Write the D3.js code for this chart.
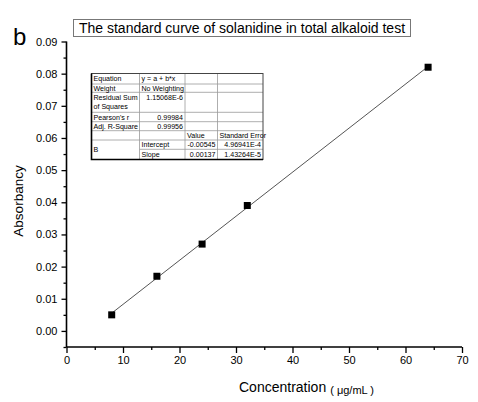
<!DOCTYPE html>
<html>
<head>
<meta charset="utf-8">
<script src="https://cdn.jsdelivr.net/npm/d3@7"></script>
<style>
  body { margin: 0; background: #fff; }
  svg { display: block; font-family: Arial, "Liberation Sans", sans-serif; }
</style>
</head>
<body>
<svg id="chart" width="478" height="402"></svg>
<script>
// data
const concentration = [8, 16, 24, 32, 64];
const absorbancy = [0.005, 0.017, 0.027, 0.039, 0.082];
const fitIntercept = -0.00545;
const fitSlope = 0.00137;
const fitRange = [8, 64];
const xTicks = [0, 10, 20, 30, 40, 50, 60, 70];
const yTicks = [0, 0.01, 0.02, 0.03, 0.04, 0.05, 0.06, 0.07, 0.08, 0.09];

const tableRows = [
    ['Equation', 'y = a + b*x', '', ''],
    ['Weight', 'No Weighting', '', ''],
    ['Residual Sum|of Squares', '1.15068E-6', '', ''],
    ["Pearson's r", '0.99984', '', ''],
    ['Adj. R-Square', '0.99956', '', ''],
    ['', '', 'Value', 'Standard Error'],
    ['B', 'Intercept', '-0.00545', '4.96941E-4'],
    ['', 'Slope', '0.00137', '1.43264E-5']
];

const svg = d3.select('#chart');
const margin = { left: 66.5, right: 16, top: 41.5, bottom: 55 };
const W = 478, H = 402;

const x = d3.scaleLinear().domain([0, 70]).range([margin.left, W - margin.right]);
const y = d3.scaleLinear().domain([-0.005, 0.09]).range([H - margin.bottom, margin.top]);

// axes
const xAxis = d3.axisBottom(x).tickValues(xTicks).tickFormat(d3.format('d')).tickSize(6).tickPadding(3);
const xMinor = d3.axisBottom(x).tickValues(d3.range(5, 70, 10)).tickFormat('').tickSize(3);
const yAxis = d3.axisLeft(y).tickValues(yTicks).tickFormat(d3.format('.2f')).tickSize(5).tickPadding(4);
const yMinor = d3.axisLeft(y).tickValues(d3.range(0.005, 0.09, 0.01).concat([-0.005])).tickFormat('').tickSize(3);

function styleAxis(g) {
    g.select('.domain').attr('stroke', '#000').attr('stroke-width', 1.6);
    g.selectAll('.tick line').attr('stroke', '#000').attr('stroke-width', 1.3);
    g.selectAll('.tick text').attr('fill', '#000').style('font-size', '11px');
}

svg.append('g').attr('transform', `translate(0,${y(-0.005)})`).call(xMinor).call(styleAxis)
    .select('.domain').remove();
svg.append('g').attr('transform', `translate(${x(0)},0)`).call(yMinor).call(styleAxis)
    .select('.domain').remove();

svg.append('g').attr('transform', `translate(0,${y(-0.005)})`).call(xAxis).call(styleAxis)
    .select('.domain').attr('d', `M${x(0)},0H${x(70)}`);
svg.append('g').attr('transform', `translate(${x(0)},0)`).call(yAxis).call(styleAxis)
    .select('.domain').attr('d', `M0,${y(0.09)}V${y(-0.005)}`);

// fit line
svg.append('line')
    .attr('x1', x(fitRange[0])).attr('y1', y(fitIntercept + fitSlope * fitRange[0]))
    .attr('x2', x(fitRange[1])).attr('y2', y(fitIntercept + fitSlope * fitRange[1]))
    .attr('stroke', '#555').attr('stroke-width', 1);

// points
svg.append('g').selectAll('rect')
    .data(concentration.map((c, i) => ({ c, a: absorbancy[i] })))
    .join('rect')
    .attr('x', d => x(d.c) - 3.5)
    .attr('y', d => y(d.a) - 3.5)
    .attr('width', 7).attr('height', 7)
    .attr('fill', '#000');

// labels
svg.append('text').attr('x', 13).attr('y', 45).style('font-size', '24px').text('b');

svg.append('text')
    .attr('transform', `translate(23,201) rotate(-90)`)
    .attr('text-anchor', 'middle')
    .style('font-size', '13.5px')
    .text('Absorbancy');

const xl = svg.append('text').attr('x', 239).attr('y', 392).style('font-size', '14px');
xl.append('tspan').text('Concentration');
xl.append('tspan').attr('dx', 4).attr('dy', 2).style('font-size', '11px').text('( μg/mL )');

// title box
svg.append('rect').attr('x', 73.5).attr('y', 19.5).attr('width', 337).attr('height', 17)
    .attr('fill', '#fff').attr('stroke', '#777').attr('stroke-width', 1);
svg.append('text').attr('x', 242).attr('y', 33).attr('text-anchor', 'middle')
    .style('font-size', '14px').text('The standard curve of solanidine in total alkaloid test');

// statistics table
const colX = [91.5, 139.5, 185, 217.5, 263];
const rowY = [73.5, 84, 92.3, 112.3, 121.7, 130.7, 140, 149.3, 159.5];
const table = svg.append('g').style('font-size', '7.1px').attr('fill', '#000');

// grid lines
rowY.slice(1, -1).forEach((ry, i) => {
    const r = i + 1;
    const x0 = r === 7 ? colX[1] : colX[0];
    table.append('line').attr('x1', x0).attr('x2', colX[4]).attr('y1', ry).attr('y2', ry)
        .attr('stroke', '#999').attr('stroke-width', 0.8);
});
colX.slice(1, -1).forEach(cx => {
    table.append('line').attr('x1', cx).attr('x2', cx).attr('y1', rowY[0]).attr('y2', rowY[8])
        .attr('stroke', '#999').attr('stroke-width', 0.8);
});
table.append('rect').attr('x', colX[0]).attr('y', rowY[0])
    .attr('width', colX[4] - colX[0]).attr('height', rowY[8] - rowY[0])
    .attr('fill', 'none').attr('stroke', '#444').attr('stroke-width', 1);
table.append('path')
    .attr('d', `M${colX[0]},${rowY[0]}V${rowY[8]}H${colX[4]}`)
    .attr('fill', 'none').attr('stroke', '#000').attr('stroke-width', 1.6);

tableRows.forEach((row, r) => {
    row.forEach((txt, c) => {
        if (!txt) return;
        const right = /^-?[0-9.]+(E-?\d+)?$/.test(txt);
        const lines = txt.split('|');
        let ty = (rowY[r] + rowY[r + 1]) / 2 + 2.5;
        if (r === 2) ty = rowY[r] + 7.5;
        if (txt === 'B') ty = (rowY[6] + rowY[8]) / 2 + 2.5;
        const tx = right ? colX[c + 1] - 2 : colX[c] + 2;
        const t = table.append('text')
            .attr('x', tx)
            .attr('y', ty)
            .attr('text-anchor', right ? 'end' : 'start');
        lines.forEach((ln, k) => {
            t.append('tspan').attr('x', tx).attr('dy', k ? 9 : 0).text(ln);
        });
    });
});
</script>
</body>
</html>
